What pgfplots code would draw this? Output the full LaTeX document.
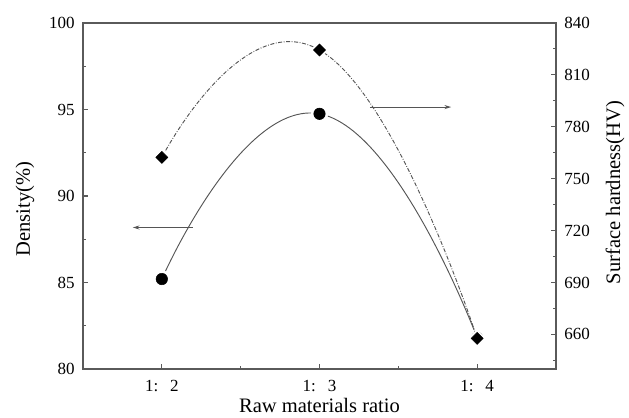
\documentclass[border=0pt]{standalone}
\usepackage{fontspec}
\setmainfont{Liberation Serif}
\usepackage{pgfplots}
\pgfplotsset{compat=1.18}
\usetikzlibrary{arrows.meta}
\definecolor{ln}{RGB}{85,85,85}
\definecolor{fr}{RGB}{90,90,90}
\begin{document}
\begin{tikzpicture}
\pgfplotsset{
  common/.style={
    scale only axis, width=354.75pt, height=259.5pt,
    xmin=1.5, xmax=4.5,
    /pgf/number format/assume math mode=true,
    tick label style={font=\fontsize{12.75}{14}\selectfont},
    label style={font=\fontsize{15.4}{17}\selectfont},
    major tick length=4pt, minor tick length=2.2pt,
    every tick/.style={fr, line width=0.8pt},
    axis line style={fr, line width=1.1pt},
  }
}
\begin{axis}[common,
  ymin=80, ymax=100, ytick={80,85,90,95,100}, minor y tick num=1,
  xtick={2,3,4}, xticklabels={1:\hspace{0.7em}2,1:\hspace{0.7em}3,1:\hspace{0.7em}4},
  minor x tick num=1,
  xtick pos=bottom, ytick pos=left,
  xticklabel style={anchor=base, yshift=-17.25pt},
  yticklabel style={inner sep=0pt, xshift=-6pt},
  xlabel={Raw materials ratio},
  xlabel style={at={(axis description cs:0.5,0)}, anchor=base, yshift=-32.5pt},
  ylabel={Density(\%)},
  ylabel style={at={(axis description cs:0,0.462)}, anchor=center, yshift=43.5pt},
]
\addplot[ln, line width=0.7pt, smooth, tension=0.9] coordinates {(2,85.2) (3,94.75) (4,81.8)};
\addplot[only marks, mark=*, mark size=6.3pt, white] coordinates {(2,85.2) (3,94.75) (4,81.8)};
\addplot[only marks, mark=*, mark size=4.3pt, black] coordinates {(2,85.2) (3,94.75) (4,81.8)};
\draw[ln, line width=0.6pt, -{Stealth[length=5pt,width=3pt]}] (axis cs:2.197,88.18) -- (axis cs:1.816,88.18);
\draw[ln, line width=0.6pt, -{Stealth[length=5pt,width=3pt]}] (axis cs:3.32,95.14) -- (axis cs:3.835,95.14);
\end{axis}
\begin{axis}[common,
  ymin=640, ymax=840, ytick={660,690,...,840}, minor ytick={645,675,...,825},
  axis y line*=right, axis x line=none,
  yticklabel style={anchor=west, inner sep=0pt, xshift=6pt},
  ylabel={Surface hardness(HV)},
  ylabel style={at={(axis description cs:1,0.51)}, anchor=center, yshift=-44.25pt},
]
\addplot[ln, line width=0.7pt, smooth, tension=0.9, dash pattern=on 3pt off 1.2pt on 0.6pt off 1.2pt] coordinates {(2,762.3) (3,824.4) (4,657.7)};
\addplot[only marks, mark=square*, mark size=4.6pt, mark options={rotate=45}, white] coordinates {(2,762.3) (3,824.4) (4,657.7)};
\addplot[only marks, mark=square*, mark size=3.2pt, mark options={rotate=45}, black] coordinates {(2,762.3) (3,824.4) (4,657.7)};
\end{axis}
\pgfresetboundingbox
\path[use as bounding box] (-62.25pt,-36.75pt) rectangle (409.5pt,276.75pt);
\end{tikzpicture}
\end{document}
